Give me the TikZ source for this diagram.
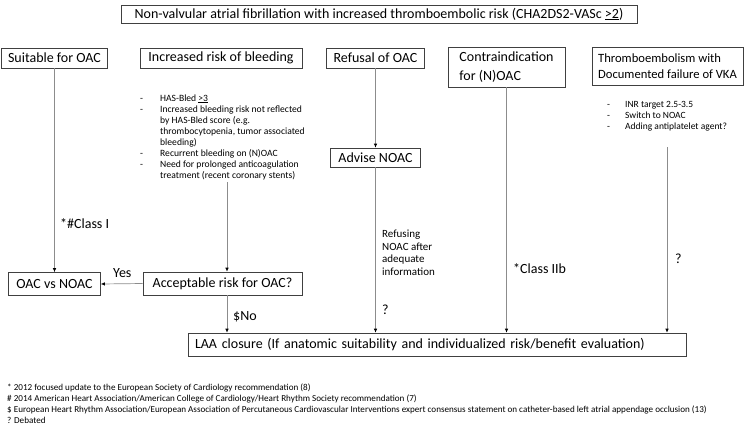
\documentclass[tikz,border=0pt]{standalone}
\usepackage{fontspec}
\setmainfont{Carlito}
\usetikzlibrary{arrows.meta}

\begin{document}
\begin{tikzpicture}[x=1pt,y=-1pt,
        box/.style={draw=black!75,line width=0.6pt,inner sep=0pt,font=\fontsize{14}{16}\selectfont},
        arr/.style={draw=black!45,line width=0.7pt,-{Latex[length=4pt,width=3.5pt,color=black]}},
        lbl/.style={inner sep=0pt,anchor=base west}]
    \useasboundingbox (0,0) rectangle (747,426);
    % top row
    \node[box,minimum width=516,minimum height=18] (af) at (379,14)
        {Non-valvular atrial fibrillation with increased thromboembolic risk (CHA2DS2-VASc \underline{>2})};
    \node[box,minimum width=106,minimum height=20] (suit) at (54.5,58) {Suitable for OAC};
    \node[box,minimum width=162,minimum height=20] (bleed) at (221,58) {Increased risk of bleeding};
    \node[box,minimum width=98,minimum height=20] (refuse) at (375.5,58) {Refusal of OAC};
    \node[box,minimum width=117,minimum height=40,align=left,font=\fontsize{14}{19}\selectfont] (contra) at (506.5,67)
        {Contraindication\\for (N)OAC};
    \node[box,minimum width=151,minimum height=38,align=left,font=\fontsize{12.6}{16}\selectfont] (vka) at (667.5,66)
        {Thromboembolism with\\Documented failure of VKA};
    % lists
    \node[lbl,font=\fontsize{9.6}{11}\selectfont] (bleedlist) at (140,101)
        {\begin{tabular}[t]{@{}p{20pt}@{}l@{}}
        - & HAS-Bled \underline{>3}\\
        - & Increased bleeding risk not reflected\\
          & by HAS-Bled score (e.g.\\
          & thrombocytopenia, tumor associated\\
          & bleeding)\\
        - & Recurrent bleeding on (N)OAC\\
        - & Need for prolonged anticoagulation\\
          & treatment (recent coronary stents)
        \end{tabular}};
    \node[lbl,font=\fontsize{9.5}{11}\selectfont] (vkalist) at (607,107)
        {\begin{tabular}[t]{@{}p{18pt}@{}l@{}}
        - & INR target 2.5-3.5\\
        - & Switch to NOAC\\
        - & Adding antiplatelet agent?
        \end{tabular}};
    % middle row
    \node[box,minimum width=90,minimum height=19] (advise) at (375.5,157.5) {Advise NOAC};
    \node[box,minimum width=92,minimum height=23] (oac) at (54.5,284) {OAC vs NOAC};
    \node[box,minimum width=159,minimum height=23] (accept) at (222.5,283.5) {Acceptable risk for OAC?};
    \node[box,minimum height=23,text width=484,inner xsep=7,align=left] (laa) at (437,344.5)
        {LAA closure (If anatomic suitability and individualized risk/benefit evaluation)};
    % connectors
    \coordinate (bl) at (227,182);
    \coordinate (vl) at (667,147);
    \draw[arr] (suit) -- (oac);
    \draw[arr] (bl) -- (bl |- accept.north);
    \draw[arr] (accept.west) -- (oac.east);
    \draw[arr] (bl |- accept.south) -- (bl |- laa.north);
    \draw[arr] (refuse) -- (advise);
    \draw[arr] (advise.south) -- (advise.south |- laa.north);
    \draw[arr] (contra.south) -- (contra.south |- laa.north);
    \draw[arr] (vl) -- (vl |- laa.north);
    % labels
    \node[lbl,font=\fontsize{14}{16}\selectfont] (classi) at (60,228) {*\#Class I};
    \node[lbl,font=\fontsize{14}{16}\selectfont] (yes) at (113,277) {Yes};
    \node[lbl,font=\fontsize{14}{16}\selectfont] (no) at (233,320) {\$No};
    \node[lbl,font=\fontsize{11}{12.7}\selectfont] (refusing) at (382,237.5)
        {\begin{tabular}[t]{@{}l@{}}
        Refusing\\NOAC after\\adequate\\information
        \end{tabular}};
    \node[lbl,font=\fontsize{14}{16}\selectfont] (q1) at (382,314) {?};
    \node[lbl,font=\fontsize{14}{16}\selectfont] (classiib) at (513,273) {*Class IIb};
    \node[lbl,font=\fontsize{14}{16}\selectfont] (q2) at (675,263) {?};
    % footnotes
    \node[lbl,font=\fontsize{9.1}{11}\selectfont] (notes) at (7,390)
        {\begin{tabular}[t]{@{}l@{}}
        * 2012 focused update to the European Society of Cardiology recommendation (8)\\
        \# 2014 American Heart Association/American College of Cardiology/Heart Rhythm Society recommendation (7)\\
        \$ European Heart Rhythm Association/European Association of Percutaneous Cardiovascular Interventions expert consensus statement on catheter-based left atrial appendage occlusion (13)\\
        ? Debated
        \end{tabular}};
\end{tikzpicture}
\end{document}
